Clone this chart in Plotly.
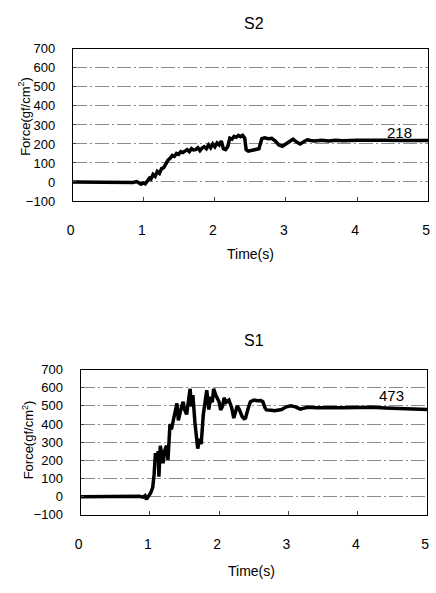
import plotly.graph_objects as go

# ---- data ----
s2_time = [0, 0.5, 0.8, 0.85, 0.9, 0.93, 0.96, 0.99, 1.02, 1.05, 1.08, 1.1, 1.13, 1.16, 1.19, 1.22,
           1.25, 1.28, 1.31, 1.34, 1.37, 1.4, 1.43, 1.46, 1.49, 1.52, 1.55, 1.58, 1.61, 1.64, 1.67,
           1.7, 1.73, 1.76, 1.79, 1.82, 1.85, 1.88, 1.91, 1.94, 1.97, 2.0, 2.03, 2.06, 2.09, 2.12,
           2.15, 2.18, 2.21, 2.24, 2.27, 2.3, 2.33, 2.36, 2.39, 2.42, 2.44, 2.47, 2.52, 2.57, 2.62,
           2.66, 2.7, 2.75, 2.8, 2.85, 2.9, 2.95, 3.0, 3.05, 3.1, 3.15, 3.2, 3.25, 3.3, 3.35, 3.4,
           3.5, 3.6, 3.7, 3.8, 4.0, 4.2, 4.4, 4.6, 4.8, 5.0]
s2_force = [0, 0, 0, -3, 2, -8, -12, -5, -10, 5, 20, 15, 40, 30, 55, 45,
            70, 75, 100, 115, 125, 140, 135, 150, 145, 160, 155, 165, 170, 160, 175,
            168, 170, 180, 165, 178, 185, 175, 195, 180, 200, 185, 205, 195, 215, 175,
            170, 185, 230, 225, 240, 235, 245, 238, 245, 230, 170, 162, 165, 168, 175,
            228, 232, 228, 230, 215, 195, 188, 200, 215, 225, 210, 200, 212, 222, 218, 215,
            220, 216, 220, 217, 219, 217, 219, 218, 218, 218]

s1_time = [0, 0.5, 0.85, 0.9, 0.93, 0.95, 0.98, 1.01, 1.04, 1.06, 1.08, 1.1, 1.12, 1.13, 1.15,
           1.17, 1.19, 1.21, 1.24, 1.26, 1.27, 1.29, 1.31, 1.34, 1.36, 1.39, 1.41, 1.43, 1.46,
           1.48, 1.5, 1.53, 1.55, 1.58, 1.6, 1.62, 1.65, 1.67, 1.69, 1.72, 1.74, 1.77, 1.8, 1.82,
           1.85, 1.88, 1.9, 1.92, 1.95, 1.97, 2.0, 2.02, 2.05, 2.07, 2.1, 2.14, 2.18, 2.21, 2.24,
           2.26, 2.29, 2.33, 2.36, 2.38, 2.42, 2.45, 2.5, 2.55, 2.6, 2.63, 2.66, 2.68, 2.75, 2.8,
           2.9, 2.97, 3.03, 3.1, 3.17, 3.27, 3.4, 3.6, 3.8, 4.0, 4.2, 4.4, 4.6, 4.8, 5.0]
s1_force = [0, 0, 2, -3, 5, -15, 5, 20, 50, 120, 240, 200, 250, 110, 280,
            220, 184, 250, 281, 200, 300, 400, 370, 426, 470, 514, 420, 460, 500,
            523, 480, 453, 520, 594, 496, 560, 406, 340, 265, 318, 290, 450, 520, 586,
            480, 550, 520, 594, 560, 540, 520, 478, 500, 545, 520, 532, 490, 433, 470,
            500, 480, 442, 430, 433, 490, 523, 532, 528, 530, 523, 490, 478, 476, 474,
            480, 495, 500, 495, 482, 492, 490, 492, 490, 491, 492, 488, 486, 484, 480]

titles = ["S2", "S1"]
final_labels = ["218", "473"]
x_ticks = [0, 1, 2, 3, 4, 5]
y_ticks = [-100, 0, 100, 200, 300, 400, 500, 600, 700]

W, H = 436, 593
FONT = "Liberation Sans, Arial, sans-serif"

fig = go.Figure()
fig.add_trace(go.Scatter(x=s2_time, y=s2_force, mode="lines",
                         line=dict(color="black", width=3.5), xaxis="x", yaxis="y",
                         showlegend=False))
fig.add_trace(go.Scatter(x=s1_time, y=s1_force, mode="lines",
                         line=dict(color="black", width=3.5), xaxis="x2", yaxis="y2",
                         showlegend=False))

def px_x(p):
    return p / W

def px_y(p):
    return 1 - p / H

common_x = dict(range=[0, 5], tickvals=x_ticks, ticks="inside", ticklen=4,
                showgrid=False, zeroline=False, showline=True, linecolor="black",
                linewidth=1, mirror=True, tickfont=dict(size=14, color="black", family=FONT),
                ticklabelstandoff=16, ticklabelshift=-2, fixedrange=True)
common_y = dict(range=[-100, 700], tickvals=y_ticks, ticks="inside", ticklen=3,
                showgrid=True, gridcolor="#8c8c8c", gridwidth=1,
                griddash="14px,3px,2px,3px",
                zeroline=False, showline=True, linecolor="black", linewidth=1, mirror=True,
                tickfont=dict(size=13, color="black", family=FONT), ticklabelstandoff=14,
                fixedrange=True)

fig.update_layout(
    width=W, height=H,
    margin=dict(l=0, r=0, t=0, b=0),
    paper_bgcolor="white", plot_bgcolor="white",
    font=dict(family=FONT, color="black"),
    xaxis=dict(domain=[px_x(68), px_x(430)], anchor="y", **common_x),
    yaxis=dict(domain=[px_y(199), px_y(43)], anchor="x", **common_y),
    xaxis2=dict(domain=[px_x(76), px_x(429)], anchor="y2", **common_x),
    yaxis2=dict(domain=[px_y(521), px_y(372)], anchor="x2", **common_y),
)

C = dict(xanchor="center", yanchor="middle", showarrow=False)
ann = []
# titles
ann.append(dict(text=titles[0], x=px_x(253), y=px_y(17), xref="paper", yref="paper",
                font=dict(size=16, family=FONT), **C))
ann.append(dict(text=titles[1], x=px_x(253), y=px_y(342), xref="paper", yref="paper",
                font=dict(size=16, family=FONT), **C))
# x titles
ann.append(dict(text="Time(s)", x=px_x(249), y=px_y(253), xref="paper", yref="paper",
                font=dict(size=14, family=FONT), **C))
ann.append(dict(text="Time(s)", x=px_x(250), y=px_y(579), xref="paper", yref="paper",
                font=dict(size=14, family=FONT), **C))
# y titles
ann.append(dict(text="Force(gf/cm<sup>2</sup>)", x=px_x(19), y=px_y(112), xref="paper",
                yref="paper", textangle=-90, font=dict(size=13, family=FONT), **C))
ann.append(dict(text="Force(gf/cm<sup>2</sup>)", x=px_x(22), y=px_y(444), xref="paper",
                yref="paper", textangle=-90, font=dict(size=13, family=FONT), **C))
# final value labels
ann.append(dict(text=final_labels[0], x=4.6, y=262, xref="x", yref="y",
                font=dict(size=15, family=FONT), **C))
ann.append(dict(text=final_labels[1], x=4.48, y=555, xref="x2", yref="y2",
                font=dict(size=15, family=FONT), **C))
fig.update_layout(annotations=ann)

fig.write_html("out.html", config={"displayModeBar": False},
               post_script="document.body.style.margin='0';")
